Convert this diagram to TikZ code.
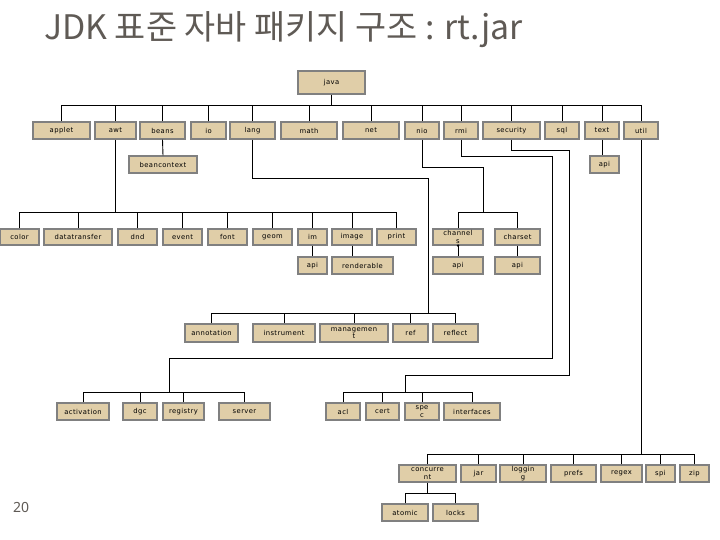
\documentclass[tikz,border=0pt]{standalone}
\usepackage{fontspec}
\setmainfont{DejaVu Sans}[LetterSpace=6]
\newfontfamily\krfont{Noto Sans CJK KR}
\newfontfamily\numfont{Noto Sans}
\definecolor{boxfill}{RGB}{224,206,168}
\definecolor{boxline}{RGB}{128,128,128}
\definecolor{titlegray}{RGB}{95,90,85}
\tikzset{
  pk/.style={draw=boxline, line width=1.1pt, fill=boxfill, inner sep=0pt,
    font=\fontsize{6.8}{7.6}\selectfont, align=center, text=black},
  wire/.style={draw=black, line width=0.9pt}
}
\begin{document}
\begin{tikzpicture}[x=1pt,y=-1pt]
\useasboundingbox (0,0) rectangle (720,540);
% title
\node[anchor=base west, inner sep=0pt, text=titlegray, font=\krfont\fontsize{33.8}{36}\selectfont] (title) at (44,40) {JDK 표준 자바 패키지 구조 : rt.jar};
\node[anchor=base west, inner sep=0pt, text=titlegray, font=\numfont\fontsize{14}{16}\selectfont] (pagenum) at (13,512) {20};
% root
\node[pk, minimum width=67, minimum height=23] (java) at (331.5,82.5) {java};
% row 1
\foreach \n/\t/\cx/\w in {applet/applet/61.5/57, awt/awt/115.5/41, beans/beans/162.5/45, io/io/208.5/35, lang/lang/252.5/45, math/math/309/56, net/net/371/56, nio/nio/422/34, rmi/rmi/461/34, security/security/511.5/57, sql/sql/562/34, text/text/602/34, util/util/641/34}
  \node[pk, minimum width=\w, minimum height=17] (\n) at (\cx,130.5) {\t};
\node[pk, minimum width=68, minimum height=17] (beancontext) at (163,164.5) {beancontext};
\node[pk, minimum width=29, minimum height=17] (textapi) at (604.5,164.5) {api};
% awt / nio children
\foreach \n/\t/\cx/\w in {color/color/19.5/39, datatransfer/datatransfer/78/68, dnd/dnd/137.5/39, event/event/182.5/39, font/font/227.5/39, geom/geom/272.5/39, im/im/312.5/29, image/image/352/40, print/print/396.5/39, charset/charset/517.5/45}
  \node[pk, minimum width=\w, minimum height=16] (\n) at (\cx,237) {\t};
\node[pk, minimum width=50, minimum height=16] (channels) at (458,237) {channel\\s};
\node[pk, minimum width=29, minimum height=17] (imapi) at (312.5,265.5) {api};
\node[pk, minimum width=61, minimum height=17] (renderable) at (362.5,265.5) {renderable};
\node[pk, minimum width=50, minimum height=17] (chapi) at (458,265.5) {api};
\node[pk, minimum width=45, minimum height=17] (csapi) at (517.5,265.5) {api};
% lang children
\foreach \n/\t/\cx/\w in {annotation/annotation/211.5/53, instrument/instrument/284/62, ref/ref/410.5/35, reflect/reflect/455.5/45}
  \node[pk, minimum width=\w, minimum height=18] (\n) at (\cx,333) {\t};
\node[pk, minimum width=68, minimum height=18] (management) at (354,333) {managemen\\t};
% rmi / security children
\foreach \n/\t/\cx/\w in {activation/activation/83/52, dgc/dgc/140/34, registry/registry/183.5/41, server/server/244.5/51, acl/acl/343/34, cert/cert/382.5/33, interfaces/interfaces/472/56}
  \node[pk, minimum width=\w, minimum height=17] (\n) at (\cx,411.5) {\t};
\node[pk, minimum width=34, minimum height=17] (spec) at (422,411.5) {spe\\c};
% util children
\foreach \n/\t/\cx/\w in {jar/jar/478.5/35, prefs/prefs/573.5/45, regex/regex/621.5/41, spi/spi/660.5/29, zip/zip/694.5/29}
  \node[pk, minimum width=\w, minimum height=17] (\n) at (\cx,473.5) {\t};
\node[pk, minimum width=57, minimum height=17] (concurrent) at (427.5,473.5) {concurre\\nt};
\node[pk, minimum width=46, minimum height=17] (logging) at (523,473.5) {loggin\\g};
\node[pk, minimum width=46, minimum height=17] (atomic) at (405,512.5) {atomic};
\node[pk, minimum width=45, minimum height=17] (locks) at (455.5,512.5) {locks};
% bus coordinates
\coordinate (busjava) at (0,105);
\coordinate (busawt) at (0,212);
\coordinate (buslang) at (0,313);
\coordinate (busrmi) at (0,392);
\coordinate (busutil) at (0,454);
\coordinate (busconc) at (0,493);
\coordinate (langturn) at (428,178);
\coordinate (nioturn) at (483,167);
\coordinate (rmiturn) at (552,156);
\coordinate (rmiturnb) at (552,358);
\coordinate (rmiturnc) at (169,358);
\coordinate (secturn) at (569,150);
\coordinate (secturnb) at (569,375);
\coordinate (secturnc) at (405,375);
% java tree
\draw[wire] (java.south) -- (java.south |- busjava);
\draw[wire] (applet.north |- busjava) -- (util.north |- busjava);
\foreach \n in {applet,awt,beans,io,lang,math,net,nio,rmi,security,sql,text,util}
  \draw[wire] (\n.north) -- (\n.north |- busjava);
\draw[wire] (beans.south) -- (beancontext.north);
\draw[wire] (text.south) -- (text.south |- textapi.north);
% awt
\draw[wire] (awt.south) -- (awt.south |- busawt);
\draw[wire] (color.north |- busawt) -- (print.north |- busawt);
\foreach \n in {color,datatransfer,dnd,event,font,geom,im,image,print}
  \draw[wire] (\n.north) -- (\n.north |- busawt);
\draw[wire] (im.south) -- (imapi.north);
\draw[wire] (image.south) -- (image.south |- renderable.north);
% nio
\draw[wire] (nio.south) |- (nioturn) -- (nioturn |- busawt);
\draw[wire] (channels.north |- busawt) -- (charset.north |- busawt);
\draw[wire] (channels.north) -- (channels.north |- busawt);
\draw[wire] (charset.north) -- (charset.north |- busawt);
\draw[wire] (channels.south) -- (chapi.north);
\draw[wire] (charset.south) -- (csapi.north);
\fill (channels.south) circle (1.3);
% lang
\draw[wire] (lang.south) |- (langturn) -- (langturn |- buslang);
\draw[wire] (annotation.north |- buslang) -- (reflect.north |- buslang);
\foreach \n in {annotation,instrument,management,ref,reflect}
  \draw[wire] (\n.north) -- (\n.north |- buslang);
% rmi
\draw[wire] (rmi.south) |- (rmiturn) -- (rmiturnb) -- (rmiturnc) -- (rmiturnc |- busrmi);
\draw[wire] (activation.north |- busrmi) -- (server.north |- busrmi);
\foreach \n in {activation,dgc,registry,server}
  \draw[wire] (\n.north) -- (\n.north |- busrmi);
% security
\draw[wire] (security.south) |- (secturn) -- (secturnb) -- (secturnc) -- (secturnc |- busrmi);
\draw[wire] (acl.north |- busrmi) -- (interfaces.north |- busrmi);
\foreach \n in {acl,cert,spec,interfaces}
  \draw[wire] (\n.north) -- (\n.north |- busrmi);
% util
\draw[wire] (util.south) -- (util.south |- busutil);
\draw[wire] (concurrent.north |- busutil) -- (zip.north |- busutil);
\foreach \n in {concurrent,jar,logging,prefs,regex,spi,zip}
  \draw[wire] (\n.north) -- (\n.north |- busutil);
\draw[wire] (concurrent.south) -- (concurrent.south |- busconc);
\draw[wire] (atomic.north |- busconc) -- (locks.north |- busconc);
\draw[wire] (atomic.north) -- (atomic.north |- busconc);
\draw[wire] (locks.north) -- (locks.north |- busconc);
\end{tikzpicture}
\end{document}
